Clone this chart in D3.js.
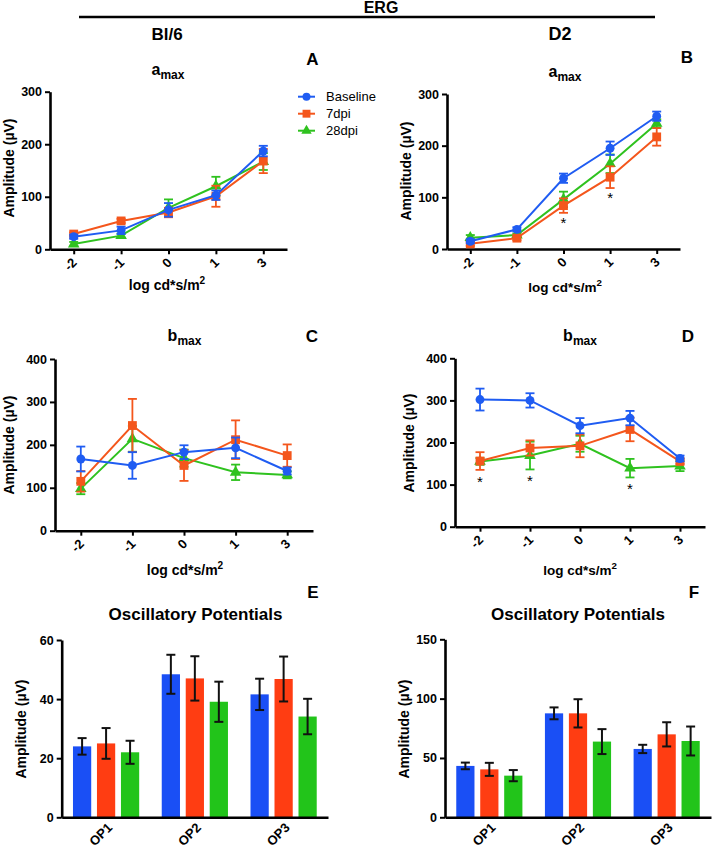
<!DOCTYPE html>
<html><head><meta charset="utf-8">
<script src="https://cdn.jsdelivr.net/npm/d3@7"></script>
<style>
body{margin:0;background:#fff}
svg{display:block}
text{font-family:"Liberation Sans",Arial,Helvetica,sans-serif}
</style>
</head><body>
<svg id="c" width="712" height="851"></svg>
<script>
// ---------- data ----------
const seriesNames = ["Baseline", "7dpi", "28dpi"];
const intensities = ["-2", "-1", "0", "1", "3"];
const opLabels = ["OP1", "OP2", "OP3"];

const ticksA = [0, 100, 200, 300];
const ticksB = [0, 100, 200, 300];
const ticksC = [0, 100, 200, 300, 400];
const ticksD = [0, 100, 200, 300, 400];
const ticksE = [0, 20, 40, 60];
const ticksF = [0, 50, 100, 150];

// A: Bl/6 a-max
const aBl6Mean = [[24, 36, 75, 103, 187], [29, 54, 70, 101, 168], [10, 26, 79, 120, 167]];
const aBl6Err  = [[4, 7, 13, 9, 10], [3, 4, 9, 20, 23], [4, 4, 16, 18, 16]];
// B: D2 a-max
const aD2Mean = [[15, 38, 137, 195, 257], [10, 21, 84, 139, 217], [22, 27, 96, 165, 243]];
const aD2Err  = [[4, 4, 9, 13, 9], [4, 4, 14, 21, 17], [5, 3, 15, 18, 8]];
// C: Bl/6 b-max
const bBl6Mean = [[167, 152, 183, 193, 139], [115, 245, 152, 212, 175], [98, 214, 169, 136, 130]];
const bBl6Err  = [[29, 31, 16, 24, 8], [24, 62, 36, 45, 26], [13, 30, 20, 18, 8]];
// D: D2 b-max
const bD2Mean = [[302, 300, 240, 258, 162], [156, 187, 192, 231, 155], [155, 169, 197, 139, 144]];
const bD2Err  = [[26, 17, 18, 17, 7], [21, 18, 27, 28, 6], [8, 33, 19, 22, 12]];
// E: Bl/6 oscillatory potentials
const opBl6Mean = [[24, 48.4, 41.6], [25, 47, 46.8], [22, 39.1, 34.1]];
const opBl6Err  = [[2.8, 6.6, 5.3], [5.2, 7.5, 7.6], [3.9, 6.8, 6]];
// F: D2 oscillatory potentials
const opD2Mean = [[43.3, 87.6, 57.6], [40.4, 87.6, 69.9], [35.1, 63.8, 64.3]];
const opD2Err  = [[2.8, 5, 3.5], [5.5, 11.9, 10.2], [4.7, 10.5, 12.2]];

// significance markers
const starsB = ["0", "1"];
const starsD = ["-2", "-1", "1"];

const lineColors = ["#1f5cf2", "#f4561c", "#2fc21f"];
const barColors = ["#1a4ff5", "#ff3d12", "#22c41a"];
const symbols = [d3.symbolCircle, d3.symbolSquare, d3.symbolTriangle];
const symbolSizes = [62, 78, 58];

// ---------- drawing ----------
const svg = d3.select("#c");
const BOLD = "bold";

function styleAxis(sel) {
  sel.select(".domain").attr("stroke", "#000").attr("stroke-width", 2.6);
  sel.selectAll(".tick line").attr("stroke", "#000").attr("stroke-width", 2);
  sel.selectAll(".tick text").attr("font-size", 12.5).attr("font-weight", BOLD).attr("fill", "#000");
}

function yTitle(x, y) {
  svg.append("text").attr("transform", `translate(${x},${y}) rotate(-90)`)
    .attr("text-anchor", "middle").attr("dy", "0.35em")
    .attr("font-size", 14).attr("font-weight", BOLD).text("Amplitude (µV)");
}

function xTitle(x, y, size) {
  const t = svg.append("text").attr("x", x).attr("y", y).attr("text-anchor", "middle")
    .attr("font-size", size).attr("font-weight", BOLD);
  t.append("tspan").text("log cd*s/m");
  t.append("tspan").attr("font-size", size * 0.72).attr("dy", -6).text("2");
}

function subTitle(x, y, main) {
  const t = svg.append("text").attr("x", x).attr("y", y).attr("text-anchor", "middle")
    .attr("font-weight", BOLD);
  t.append("tspan").attr("font-size", 16).text(main);
  t.append("tspan").attr("font-size", 12).attr("dy", 3.5).text("max");
}

function label(x, y, s, size) {
  svg.append("text").attr("x", x).attr("y", y).attr("text-anchor", "middle")
    .attr("font-size", size).attr("font-weight", BOLD).text(s);
}

function linePanel(cfg) {
  const g = svg.append("g");
  const x = d3.scalePoint().domain(intensities).range([cfg.x0, cfg.x1]).padding(0.5);
  const y = d3.scaleLinear().domain([0, d3.max(cfg.ticks)]).range([cfg.yb, cfg.yt]);

  const ya = g.append("g").attr("transform", `translate(${cfg.x0},0)`)
    .call(d3.axisLeft(y).tickValues(cfg.ticks).tickSize(5).tickSizeOuter(0).tickPadding(3));
  styleAxis(ya);
  const xa = g.append("g").attr("transform", `translate(0,${cfg.yb})`)
    .call(d3.axisBottom(x).tickSize(5).tickSizeOuter(0).tickFormat(""));
  styleAxis(xa);
  g.selectAll("text.xl").data(intensities).join("text").attr("class", "xl")
    .attr("transform", d => `translate(${x(d) + 4},${cfg.yb + 14}) rotate(-45)`)
    .attr("text-anchor", "end").attr("font-size", 13).attr("font-weight", BOLD)
    .text(d => d);

  const order = [2, 1, 0];
  const line = d3.line().x((d, i) => x(intensities[i])).y(d => y(d));
  order.forEach(s => {
    const col = lineColors[s];
    const gs = g.append("g");
    gs.append("path").datum(cfg.mean[s]).attr("d", line).attr("fill", "none")
      .attr("stroke", col).attr("stroke-width", 2);
    cfg.mean[s].forEach((v, i) => {
      const e = cfg.err[s][i];
      const cx = x(intensities[i]);
      const eg = gs.append("g").attr("stroke", col).attr("stroke-width", 1.8);
      eg.append("line").attr("x1", cx).attr("x2", cx).attr("y1", y(v - e)).attr("y2", y(v + e));
      eg.append("line").attr("x1", cx - 4.5).attr("x2", cx + 4.5).attr("y1", y(v - e)).attr("y2", y(v - e));
      eg.append("line").attr("x1", cx - 4.5).attr("x2", cx + 4.5).attr("y1", y(v + e)).attr("y2", y(v + e));
    });
    gs.selectAll("path.m").data(cfg.mean[s]).join("path").attr("class", "m")
      .attr("d", d3.symbol().type(symbols[s]).size(symbolSizes[s]))
      .attr("transform", (d, i) => `translate(${x(intensities[i])},${y(d)})`)
      .attr("fill", col);
  });

  if (cfg.stars) {
    cfg.stars.forEach(c => {
      const i = intensities.indexOf(c);
      const low = d3.min(cfg.mean.map((m, s) => m[i] - cfg.err[s][i]));
      g.append("text").attr("x", x(c)).attr("y", y(low) + cfg.starOff)
        .attr("text-anchor", "middle").attr("font-size", 15).text("*");
    });
  }
}

function barPanel(cfg) {
  const g = svg.append("g");
  const x0 = d3.scaleBand().domain(opLabels).range([cfg.x0, cfg.x1]).padding(0);
  const x1 = d3.scaleBand().domain(seriesNames).range([0, x0.bandwidth()])
    .paddingInner(0.24).paddingOuter(0.47);
  const y = d3.scaleLinear().domain([0, d3.max(cfg.ticks)]).range([cfg.yb, cfg.yt]);

  opLabels.forEach((op, j) => {
    seriesNames.forEach((sn, s) => {
      const v = cfg.mean[s][j];
      g.append("rect").attr("x", x0(op) + x1(sn)).attr("width", x1.bandwidth())
        .attr("y", y(v)).attr("height", y(0) - y(v)).attr("fill", barColors[s]);
    });
  });
  opLabels.forEach((op, j) => {
    seriesNames.forEach((sn, s) => {
      const v = cfg.mean[s][j], e = cfg.err[s][j];
      const cx = x0(op) + x1(sn) + x1.bandwidth() / 2;
      const eg = g.append("g").attr("stroke", "#111").attr("stroke-width", 2);
      eg.append("line").attr("x1", cx).attr("x2", cx).attr("y1", y(v - e)).attr("y2", y(v + e));
      eg.append("line").attr("x1", cx - 4.5).attr("x2", cx + 4.5).attr("y1", y(v - e)).attr("y2", y(v - e));
      eg.append("line").attr("x1", cx - 4.5).attr("x2", cx + 4.5).attr("y1", y(v + e)).attr("y2", y(v + e));
    });
  });

  const ya = g.append("g").attr("transform", `translate(${cfg.x0},0)`)
    .call(d3.axisLeft(y).tickValues(cfg.ticks).tickSize(5).tickSizeOuter(0).tickPadding(3));
  styleAxis(ya);
  const xa = g.append("g").attr("transform", `translate(0,${cfg.yb})`)
    .call(d3.axisBottom(x0).tickSize(0).tickSizeOuter(0).tickFormat(""));
  styleAxis(xa);
  g.selectAll("text.xl").data(opLabels).join("text").attr("class", "xl")
    .attr("transform", d => `translate(${x0(d) + x0.bandwidth() / 2 + 7},${cfg.yb + 11}) rotate(-45)`)
    .attr("text-anchor", "end").attr("font-size", 13).attr("font-weight", BOLD).text(d => d);
}

// header
svg.append("line").attr("x1", 79).attr("x2", 655).attr("y1", 17).attr("y2", 17)
  .attr("stroke", "#000").attr("stroke-width", 2.6);
label(381, 13, "ERG", 16);
label(167, 40, "Bl/6", 17);
label(560, 40, "D2", 18);

// panel letters
label(312.5, 65, "A", 17);
label(687, 63, "B", 17);
label(312, 342, "C", 17);
label(688, 342, "D", 17);
label(313, 598, "E", 17);
label(694, 598, "F", 17);

// titles
subTitle(168, 75, "a");
subTitle(565, 77, "a");
subTitle(184.5, 341, "b");
subTitle(580, 341, "b");
label(195.5, 620, "Oscillatory Potentials", 17);
label(578, 620, "Oscillatory Potentials", 17);

// panels
linePanel({x0: 50, x1: 287, yb: 249.3, yt: 91.7, ticks: ticksA, mean: aBl6Mean, err: aBl6Err});
linePanel({x0: 447, x1: 680, yb: 249, yt: 94, ticks: ticksB, mean: aD2Mean, err: aD2Err, stars: starsB, starOff: 15});
linePanel({x0: 55, x1: 313, yb: 530.7, yt: 359, ticks: ticksC, mean: bBl6Mean, err: bBl6Err});
linePanel({x0: 455, x1: 705, yb: 526.7, yt: 358.3, ticks: ticksD, mean: bD2Mean, err: bD2Err, stars: starsD, starOff: 17});
barPanel({x0: 61.7, x1: 328, yb: 817.3, yt: 640, ticks: ticksE, mean: opBl6Mean, err: opBl6Err});
barPanel({x0: 445, x1: 711, yb: 817.3, yt: 639.3, ticks: ticksF, mean: opD2Mean, err: opD2Err});

// axis titles
yTitle(9, 168); yTitle(406, 171); yTitle(9, 445); yTitle(409, 443); yTitle(21, 729); yTitle(404, 729);
xTitle(167, 290, 14); xTitle(565, 292, 13.5); xTitle(185, 575, 14); xTitle(580, 575, 13.5);

// legend
const lg = svg.append("g");
seriesNames.forEach((n, s) => {
  const yy = 96.7 + s * 17;
  lg.append("line").attr("x1", 298).attr("x2", 315).attr("y1", yy).attr("y2", yy)
    .attr("stroke", lineColors[s]).attr("stroke-width", 2);
  lg.append("path").attr("d", d3.symbol().type(symbols[s]).size(symbolSizes[s] * 0.8)())
    .attr("transform", `translate(306.5,${yy})`).attr("fill", lineColors[s]);
  lg.append("text").attr("x", 326).attr("y", yy + 4.6).attr("font-size", 13).text(n);
});
</script>
</body></html>
